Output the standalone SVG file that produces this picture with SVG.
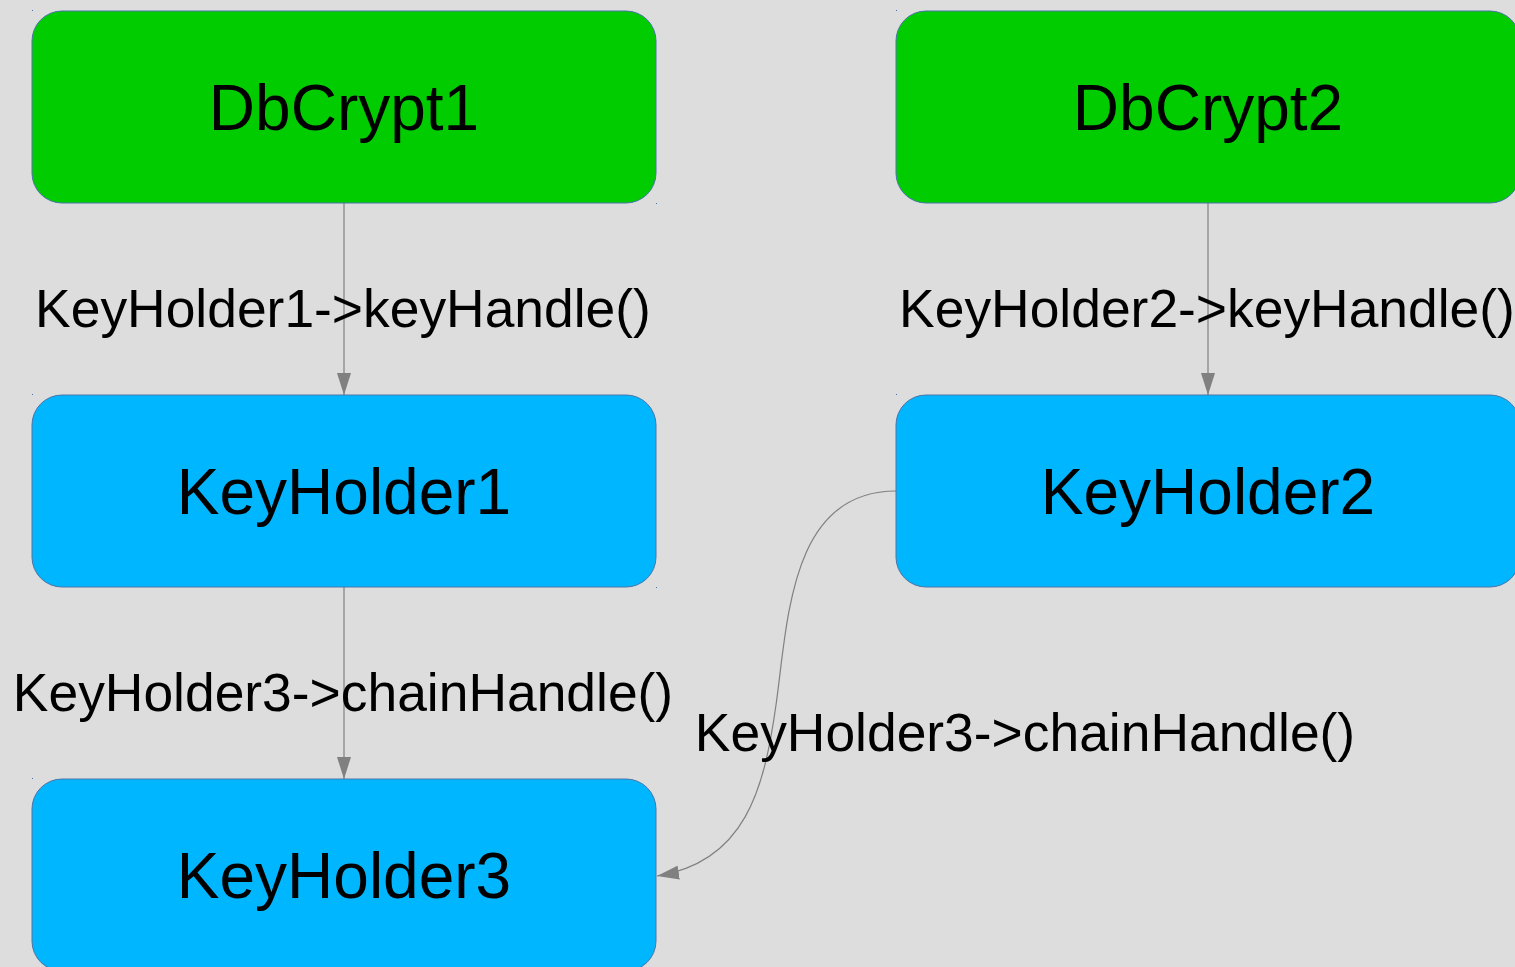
<svg xmlns="http://www.w3.org/2000/svg" width="1515" height="967" viewBox="0 0 1515 967">
  <defs>
    <style>
      .node { stroke: #4a74a8; stroke-width: 1; }
      .db { fill: #00cc00; }
      .kh { fill: #00b7ff; }
      .label { font-family: "Liberation Sans", Arial, sans-serif; font-size: 64px; fill: #000; text-anchor: middle; }
      .elabel { font-family: "Liberation Sans", Arial, sans-serif; font-size: 53.4px; fill: #000; text-anchor: middle; }
      .edge { fill: none; stroke: #808080; stroke-width: 1.2; }
      .dot { fill: #4a74a8; }
    </style>
    <marker id="arrow" markerWidth="22" markerHeight="14" refX="22" refY="7" orient="auto" markerUnits="userSpaceOnUse">
      <path d="M0,0 L22,7 L0,14 Z" fill="#808080"/>
    </marker>
  </defs>
  <rect width="1515" height="967" fill="#dddddd"/>

  <!-- connectors and their labels -->
  <g id="connectors">
    <path class="edge" d="M344,203 L344,395" marker-end="url(#arrow)"/>
    <path class="edge" d="M1208,203 L1208,395" marker-end="url(#arrow)"/>
    <path class="edge" d="M344,587 L344,779" marker-end="url(#arrow)"/>
    <path class="edge" d="M896,491 C790,491 788,620 776,705 C764,790 745,862 657,876" marker-end="url(#arrow)"/>
    <text class="elabel" x="343" y="327">KeyHolder1-&gt;keyHandle()</text>
    <text class="elabel" x="1207" y="327">KeyHolder2-&gt;keyHandle()</text>
    <text class="elabel" x="343" y="711">KeyHolder3-&gt;chainHandle()</text>
    <text class="elabel" x="1025" y="751">KeyHolder3-&gt;chainHandle()</text>
  </g>

  <g id="DbCrypt1">
    <rect class="dot" x="32" y="10" width="1" height="1"/>
    <rect class="dot" x="656" y="203" width="1" height="1"/>
    <rect class="node db" x="32" y="11" width="624" height="192" rx="30" ry="30"/>
    <text class="label" x="344" y="130">DbCrypt1</text>
  </g>

  <g id="DbCrypt2">
    <rect class="dot" x="896" y="10" width="1" height="1"/>
    <rect class="node db" x="896" y="11" width="624" height="192" rx="30" ry="30"/>
    <text class="label" x="1208" y="130">DbCrypt2</text>
  </g>

  <g id="KeyHolder1">
    <rect class="dot" x="32" y="394" width="1" height="1"/>
    <rect class="dot" x="656" y="587" width="1" height="1"/>
    <rect class="node kh" x="32" y="395" width="624" height="192" rx="30" ry="30"/>
    <text class="label" x="344" y="514">KeyHolder1</text>
  </g>

  <g id="KeyHolder2">
    <rect class="dot" x="896" y="394" width="1" height="1"/>
    <rect class="node kh" x="896" y="395" width="624" height="192" rx="30" ry="30"/>
    <text class="label" x="1208" y="514">KeyHolder2</text>
  </g>

  <g id="KeyHolder3">
    <rect class="dot" x="32" y="778" width="1" height="1"/>
    <rect class="node kh" x="32" y="779" width="624" height="192" rx="30" ry="30"/>
    <text class="label" x="344" y="898">KeyHolder3</text>
  </g>
</svg>
